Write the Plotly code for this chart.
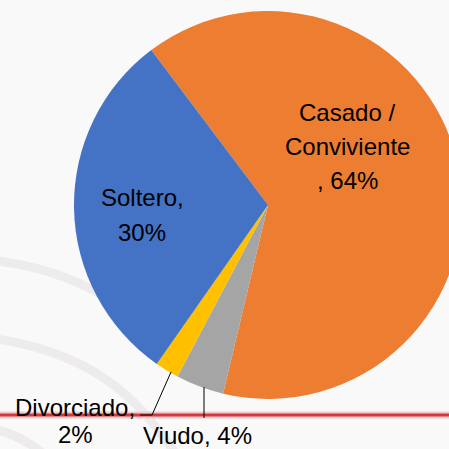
import plotly.graph_objects as go

# ---- data ----
categories = ["Casado / Conviviente", "Viudo", "Divorciado", "Soltero"]
values = [64, 4, 2, 30]
colors = ["#ED7D31", "#A5A5A5", "#FFC000", "#4472C4"]
# how each data label is broken into lines (as displayed)
label_lines = [
    ["Casado /", "Conviviente", ", {p}%"],
    ["Viudo, {p}%"],
    ["Divorciado,", "{p}%"],
    ["Soltero,", "{p}%"],
]

W, H = 480, 449
BG = "#FAF9F9"

total = sum(values)
pcts = [round(v * 100 / total) for v in values]

# pie geometry in px (center 268,205 ; radius 194)
cx, cy, r = 268, 205, 194

fig = go.Figure(go.Pie(
    labels=categories, values=values, sort=False, direction="clockwise",
    rotation=-37, marker=dict(colors=colors, line=dict(width=0)),
    textinfo="none", hoverinfo="label+percent", showlegend=False,
    domain=dict(x=[(cx - r) / W, (cx + r) / W], y=[1 - (cy + r) / H, 1 - (cy - r) / H]),
))

def px(x, y):
    return x / W, 1 - y / H

# label positions (line centers, px)
label_pos = [
    (347, [113, 147, 181]),
    (197, [435]),
    (75, [407, 434]),
    (142, [198, 232]),
]
annotations = []
for lines, pct, (lx, ys) in zip(label_lines, pcts, label_pos):
    for line, ly in zip(lines, ys):
        ax_, ay_ = px(lx, ly)
        annotations.append(dict(
            x=ax_, y=ay_, xref="paper", yref="paper", showarrow=False,
            text=line.format(p=pct), xanchor="center", yanchor="middle",
            font=dict(family="Liberation Sans, Arial", size=24, color="#000000"),
        ))

shapes = []
# faint background arcs (decoration)
arc_paths = [
    "M -10,260 Q 100,272 160,345",
    "M -10,338 Q 95,352 150,420 T 175,470",
    "M -10,428 Q 30,436 60,470",
]
def path_px_to_paper(p):
    out = []
    for tok in p.split():
        if "," in tok:
            a, b = tok.split(",")
            x, y = px(float(a), float(b))
            out.append(f"{x:.4f},{y:.4f}")
        else:
            out.append(tok)
    return " ".join(out)

for p in arc_paths:
    shapes.append(dict(type="path", path=path_px_to_paper(p), xref="paper", yref="paper",
                       line=dict(color="#EDEBEC", width=9), layer="below"))

# red horizontal rule with soft glow
x0, y0 = px(0, 415)
x1, _ = px(W, 415)
shapes.append(dict(type="line", x0=x0, x1=x1, y0=y0, y1=y0, xref="paper", yref="paper",
                   line=dict(color="#F3C9CB", width=7), layer="below"))
shapes.append(dict(type="line", x0=x0, x1=x1, y0=y0, y1=y0, xref="paper", yref="paper",
                   line=dict(color="#D2383F", width=3), layer="below"))

# leader lines
def seg(pts):
    s = "M " + " L ".join(f"{px(a, b)[0]:.4f},{px(a, b)[1]:.4f}" for a, b in pts)
    return s
shapes.append(dict(type="path", path=seg([(171, 372), (152, 415), (140, 415)]),
                   xref="paper", yref="paper", line=dict(color="#000000", width=1)))
shapes.append(dict(type="path", path=seg([(204, 387), (204, 418)]),
                   xref="paper", yref="paper", line=dict(color="#000000", width=1)))

fig.update_layout(
    width=W, height=H, margin=dict(l=0, r=0, t=0, b=0),
    paper_bgcolor=BG, plot_bgcolor=BG,
    annotations=annotations, shapes=shapes,
)

fig.write_html("out.html", config={"displayModeBar": False},
               post_script="document.body.style.margin='0';document.body.style.overflow='hidden';")
